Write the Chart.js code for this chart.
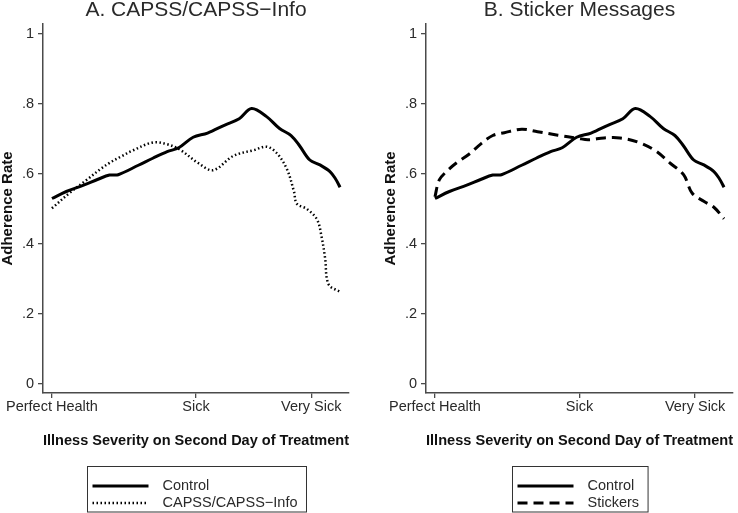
<!DOCTYPE html>
<html>
<head>
<meta charset="utf-8">
<script src="https://cdn.jsdelivr.net/npm/chart.js@4.4.1/dist/chart.umd.min.js"></script>
<style>
  body { margin: 0; background: #fff; overflow: hidden; }
  #wrap { position: relative; width: 738px; height: 513px; }
  canvas { position: absolute; top: 0; }
</style>
</head>
<body>
<div id="wrap">
  <canvas id="chartA" width="369" height="513" style="left:0"></canvas>
  <canvas id="chartB" width="355" height="513" style="left:383px"></canvas>
</div>
<script>
// x positions on the severity scale (0 = Perfect Health ... 10)
const tickValues = [0, 5, 9];
const tickLabels = ['Perfect Health', 'Sick', 'Very Sick'];
const yTicks = [0, 0.2, 0.4, 0.6, 0.8, 1];

const controlX = [0, 0.5, 1.1, 1.6, 2.0, 2.3, 3.0, 3.5, 4.0, 4.4, 4.9, 5.4, 6.0, 6.5, 6.93, 7.45, 7.9, 8.3, 8.6, 8.95, 9.3, 9.65, 9.85, 10.0];
const controlY = [0.53, 0.55, 0.568, 0.585, 0.597, 0.598, 0.625, 0.645, 0.664, 0.675, 0.705, 0.717, 0.74, 0.758, 0.787, 0.764, 0.73, 0.71, 0.68, 0.64, 0.626, 0.607, 0.585, 0.562];

const capssX = [0, 0.6, 1.2, 1.7, 2.0, 2.4, 2.8, 3.5, 4.0, 4.45, 5.1, 5.6, 6.3, 7.0, 7.45, 7.8, 8.15, 8.4, 8.5, 8.85, 9.2, 9.36, 9.48, 9.6, 10.0];
const capssY = [0.502, 0.545, 0.583, 0.615, 0.632, 0.65, 0.667, 0.69, 0.685, 0.669, 0.63, 0.611, 0.652, 0.668, 0.678, 0.66, 0.615, 0.55, 0.515, 0.50, 0.47, 0.42, 0.36, 0.285, 0.263];

const stickerX = [0, 0.15, 0.45, 0.75, 1.2, 1.6, 2.0, 2.4, 3.0, 3.55, 4.25, 4.95, 5.3, 5.85, 6.4, 7.0, 7.6, 8.15, 8.6, 8.9, 9.3, 9.65, 10.0];
const stickerY = [0.535, 0.583, 0.611, 0.632, 0.658, 0.687, 0.71, 0.718, 0.728, 0.721, 0.711, 0.702, 0.698, 0.703, 0.703, 0.692, 0.668, 0.63, 0.598, 0.545, 0.522, 0.505, 0.472];

const FONT = "'Liberation Sans', Arial, sans-serif";
const axisColor = '#4a4a4a';
const textColor = '#2a2a2a';

function pts(xs, ys) {
    return xs.map((x, i) => ({ x: x, y: ys[i] }));
}

// boxed legend under the x-axis title, stacked rows like the original
const boxLegend = {
    id: 'boxLegend',
    afterDraw(chart) {
        const ctx = chart.ctx;
        const area = chart.chartArea;
        const sets = chart.data.datasets;
        ctx.save();
        ctx.font = '14.5px ' + FONT;
        let textW = 0;
        sets.forEach(ds => { textW = Math.max(textW, ctx.measureText(ds.label).width); });
        const sample = 56;
        const boxW = 5 + sample + 14 + textW + 9;
        const left = Math.round((area.left + area.right) / 2 - boxW / 2) + 0.5;
        const top = 466.5;
        ctx.strokeStyle = '#333';
        ctx.lineWidth = 1;
        ctx.strokeRect(left, top, boxW, 512 - top);
        sets.forEach((ds, i) => {
            const y = 486 + i * 17;
            ctx.beginPath();
            ctx.setLineDash(ds.borderDash || []);
            ctx.lineWidth = ds.borderWidth;
            ctx.strokeStyle = '#000';
            ctx.moveTo(left + 5, y);
            ctx.lineTo(left + 5 + sample, y);
            ctx.stroke();
            ctx.setLineDash([]);
            ctx.fillStyle = textColor;
            ctx.textBaseline = 'middle';
            ctx.fillText(ds.label, left + 5 + sample + 14, y);
        });
        ctx.restore();
    }
};

function makeChart(id, title, second, padRight) {
    const ctx = document.getElementById(id).getContext('2d');
    return new Chart(ctx, {
        type: 'line',
        data: {
            datasets: [
                {
                    label: 'Control',
                    data: pts(controlX, controlY),
                    borderColor: '#000',
                    borderWidth: 3,
                    pointRadius: 0,
                    tension: 0.35,
                    fill: false
                },
                second
            ]
        },
        options: {
            responsive: false,
            animation: false,
            layout: { padding: { left: 0, right: padRight, top: 0, bottom: 65 } },
            plugins: {
                legend: { display: false },
                tooltip: { enabled: false },
                title: {
                    display: true,
                    text: title,
                    fullSize: false,
                    color: textColor,
                    font: { family: FONT, size: 21, weight: 'normal', lineHeight: 1 },
                    padding: { top: 0, bottom: 3 }
                }
            },
            scales: {
                x: {
                    type: 'linear',
                    min: -0.31,
                    max: 10.31,
                    afterBuildTicks: (scale) => {
                        scale.ticks = tickValues.map(v => ({ value: v }));
                    },
                    afterFit: (scale) => { scale.height = 55; },
                    ticks: {
                        autoSkip: false,
                        maxRotation: 0,
                        padding: 0,
                        color: textColor,
                        font: { family: FONT, size: 14.5 },
                        callback: (v) => {
                            const i = tickValues.indexOf(v);
                            return i >= 0 ? tickLabels[i] : '';
                        }
                    },
                    grid: {
                        display: true,
                        drawOnChartArea: false,
                        tickLength: 5,
                        tickColor: axisColor,
                        lineWidth: 1.3
                    },
                    border: { display: true, color: axisColor, width: 1.5 },
                    title: {
                        display: true,
                        text: 'Illness Severity on Second Day of Treatment',
                        color: '#111',
                        font: { family: FONT, size: 15, weight: 'bold', lineHeight: 1 },
                        padding: { top: 0, bottom: 0 }
                    }
                },
                y: {
                    type: 'linear',
                    min: -0.0257,
                    max: 1.0286,
                    afterBuildTicks: (scale) => {
                        scale.ticks = yTicks.map(v => ({ value: v }));
                    },
                    afterFit: (scale) => { scale.width = 43; },
                    ticks: {
                        padding: 4,
                        color: textColor,
                        font: { family: FONT, size: 14.5 },
                        callback: (v) => {
                            if (v === 0) return '0';
                            if (v === 1) return '1';
                            return String(v).replace(/^0/, '');
                        }
                    },
                    grid: {
                        display: true,
                        drawOnChartArea: false,
                        tickLength: 5,
                        tickColor: axisColor,
                        lineWidth: 1.3
                    },
                    border: { display: true, color: axisColor, width: 1.5 },
                    title: {
                        display: true,
                        text: 'Adherence Rate',
                        color: '#111',
                        font: { family: FONT, size: 15, weight: 'bold', lineHeight: 1 },
                        padding: { top: 0, bottom: 0 }
                    }
                }
            }
        },
        plugins: [boxLegend]
    });
}

makeChart('chartA', 'A. CAPSS/CAPSS\u2212Info', {
    label: 'CAPSS/CAPSS\u2212Info',
    data: pts(capssX, capssY),
    borderColor: '#000',
    borderWidth: 2.5,
    borderDash: [1.5, 2.5],
    pointRadius: 0,
    tension: 0.35,
    fill: false
}, 20);

makeChart('chartB', 'B. Sticker Messages', {
    label: 'Stickers',
    data: pts(stickerX, stickerY),
    borderColor: '#000',
    borderWidth: 3,
    borderDash: [10, 6],
    pointRadius: 0,
    tension: 0.35,
    fill: false
}, 5);
</script>
</body>
</html>
